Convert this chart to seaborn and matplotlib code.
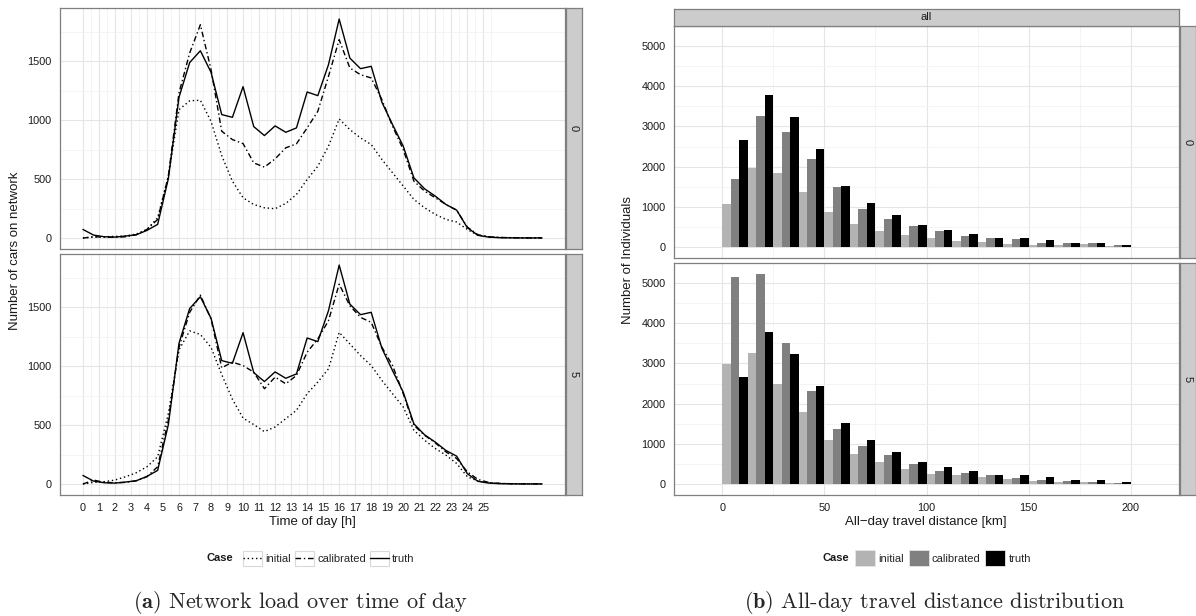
import numpy as np
import pandas as pd
import matplotlib
matplotlib.use('Agg')
import matplotlib.pyplot as plt
import seaborn as sns
from matplotlib.lines import Line2D
from matplotlib.patches import Patch, Rectangle
from matplotlib.legend_handler import HandlerLine2D
from matplotlib.ticker import MultipleLocator, FixedLocator

# --- DATA ---
cases = ['initial', 'calibrated', 'truth']

# network load, 40-minute time bins
hours = np.arange(44) * 40 / 60

load_truth = [73, 25, 11, 8, 17, 28, 65, 116, 503, 1195, 1490, 1590, 1407, 1048, 1025, 1285,
              946, 870, 952, 898, 935, 1240, 1209, 1472, 1859, 1528, 1438, 1458, 1153, 963,
              780, 511, 418, 356, 285, 237, 88, 23, 8, 3, 2, 1, 1, 1]
load_calib_0 = [0, 11, 8, 6, 11, 28, 73, 158, 525, 1232, 1571, 1811, 1430, 907, 836, 802,
                638, 602, 672, 766, 800, 935, 1076, 1373, 1684, 1444, 1387, 1359, 1175, 949,
                751, 483, 398, 342, 285, 237, 93, 28, 11, 5, 3, 2, 1, 1]
load_init_0 = [0, 8, 11, 14, 17, 34, 73, 172, 525, 1090, 1165, 1170, 990, 700, 483, 342,
               285, 257, 249, 294, 370, 497, 610, 780, 1011, 921, 850, 794, 667, 554,
               441, 328, 257, 201, 158, 136, 73, 23, 11, 5, 3, 2, 1, 1]
load_calib_5 = [0, 34, 14, 11, 14, 28, 62, 147, 541, 1162, 1458, 1604, 1401, 987, 1035, 1006,
                950, 809, 908, 851, 922, 1119, 1232, 1387, 1697, 1514, 1415, 1373, 1162, 1006,
                767, 499, 414, 350, 273, 217, 104, 39, 14, 6, 3, 2, 1, 1]
load_init_5 = [0, 14, 20, 34, 62, 96, 147, 231, 598, 1140, 1300, 1270, 1160, 930, 720, 560,
               505, 445, 485, 555, 626, 767, 866, 978, 1288, 1190, 1091, 1006, 880, 767,
               654, 457, 372, 302, 245, 175, 62, 25, 11, 5, 3, 2, 1, 1]

# travel distance histogram, 12.5 km bins
dist_edges = [-12.5 + 12.5 * k for k in range(19)]
dist_centers = [e + 6.25 for e in dist_edges[:-1]]
dist_truth = [3, 2669, 3785, 3240, 2446, 1529, 1107, 810, 562, 421, 339, 240, 223, 174, 116, 99, 66, 5]
dist_calib_0 = [8, 1702, 3264, 2868, 2198, 1504, 959, 711, 537, 397, 289, 240, 198, 116, 116, 99, 66, 17]
dist_init_0 = [5, 1083, 1983, 1835, 1380, 884, 587, 413, 314, 240, 165, 140, 91, 66, 66, 74, 41, 17]
dist_calib_5 = [8, 5140, 5231, 3501, 2315, 1376, 956, 733, 511, 346, 288, 239, 165, 115, 91, 66, 41, 12]
dist_init_5 = [5, 2998, 3254, 2488, 1796, 1104, 758, 560, 387, 264, 239, 189, 140, 91, 66, 66, 41, 12]

facets = ['0', '5']

load_rows = []
for f, ini, cal in [('0', load_init_0, load_calib_0), ('5', load_init_5, load_calib_5)]:
    for case, vals in zip(cases, [ini, cal, load_truth]):
        load_rows.append(pd.DataFrame({'hour': hours, 'cars': vals, 'case': case, 'facet': f}))
df_load = pd.concat(load_rows, ignore_index=True)

dist_rows = []
for f, ini, cal in [('0', dist_init_0, dist_calib_0), ('5', dist_init_5, dist_calib_5)]:
    for case, vals in zip(cases, [ini, cal, dist_truth]):
        dist_rows.append(pd.DataFrame({'dist': dist_centers, 'n': vals, 'case': case, 'facet': f}))
df_dist = pd.concat(dist_rows, ignore_index=True)

# --- STYLE ---
sns.set_style('white')
plt.rcParams['font.family'] = ['Liberation Sans', 'DejaVu Sans']
plt.rcParams['mathtext.fontset'] = 'cm'

W, H = 1196, 616
fig = plt.figure(figsize=(W / 100, H / 100), dpi=100)


def box(x0, y0, x1, y1):
    return [x0 / W, 1 - y1 / H, (x1 - x0) / W, (y1 - y0) / H]


border = '#7f7f7f'
strip_bg = '#cccccc'
txt = '#1a1a1a'


def style_ax(ax, xmaj, xmin, ymaj, ymin):
    ax.set_facecolor('white')
    ax.xaxis.set_major_locator(MultipleLocator(xmaj))
    ax.xaxis.set_minor_locator(MultipleLocator(xmin))
    ax.yaxis.set_major_locator(MultipleLocator(ymaj))
    ax.yaxis.set_minor_locator(MultipleLocator(ymin))
    ax.grid(which='major', color='#e5e5e5', linewidth=0.8)
    ax.grid(which='minor', color='#f3f3f3', linewidth=0.6)
    ax.set_axisbelow(True)
    for s in ax.spines.values():
        s.set_color(border)
        s.set_linewidth(0.9)
    ax.tick_params(which='major', length=4, width=0.8, color='#333333', labelsize=7.8,
                   labelcolor=txt, pad=2)
    ax.tick_params(which='minor', length=0)
    ax.set_xlabel('')
    ax.set_ylabel('')


def strip(rect, label, rotation):
    s = fig.add_axes(rect)
    s.set_facecolor(strip_bg)
    s.set_xticks([])
    s.set_yticks([])
    for sp in s.spines.values():
        sp.set_color(border)
        sp.set_linewidth(0.9)
    s.text(0.5, 0.5, label, rotation=rotation, ha='center', va='center',
           fontsize=8, color=txt, transform=s.transAxes)


dash_map = {'initial': (1, 2), 'calibrated': (4, 2, 1, 2), 'truth': ''}
greys = {'initial': '#b3b3b3', 'calibrated': '#808080', 'truth': '#000000'}

# --- (a) network load ---
left_rows = [(8, 249), (254, 495)]
for i, f in enumerate(facets):
    y0, y1 = left_rows[i]
    ax = fig.add_axes(box(60, y0, 565, y1))
    sns.lineplot(data=df_load[df_load.facet == f], x='hour', y='cars', style='case',
                 style_order=cases, dashes=dash_map, color='black', linewidth=1.0,
                 errorbar=None, legend=False, ax=ax)
    style_ax(ax, 1, 0.5, 500, 250)
    ax.set_xlim(-1.43, 30.1)
    ax.set_ylim(-93, 1953)
    ax.set_xticks(range(26))
    ax.xaxis.set_minor_locator(FixedLocator(np.arange(0.5, 25.6, 1)))
    if i == 0:
        ax.tick_params(axis='x', which='both', bottom=False, labelbottom=False)
    strip(box(566, y0, 582, y1), f, -90)

fig.text(15 / W, 1 - 251 / H, 'Number of cars on network', rotation=90, ha='center',
         va='center', fontsize=9.5, color=txt)
fig.text(312 / W, 1 - 522 / H, 'Time of day [h]', ha='center', va='center',
         fontsize=9.5, color=txt)

# --- (b) travel distance ---
right_rows = [(26, 258), (263, 495)]
for i, f in enumerate(facets):
    y0, y1 = right_rows[i]
    ax = fig.add_axes(box(674, y0, 1179, y1))
    sns.histplot(data=df_dist[df_dist.facet == f], x='dist', weights='n', hue='case',
                 hue_order=cases, palette=greys, bins=dist_edges, multiple='dodge',
                 shrink=1, alpha=1, linewidth=0, legend=False, ax=ax)
    style_ax(ax, 50, 25, 1000, 500)
    ax.set_xlim(-23.75, 223.75)
    ax.set_ylim(-261, 5492)
    if i == 0:
        ax.tick_params(axis='x', which='both', bottom=False, labelbottom=False)
    strip(box(1180, y0, 1196, y1), f, -90)
strip(box(674, 9, 1179, 26), 'all', 0)

fig.text(628 / W, 1 - 260 / H, 'Number of Individuals', rotation=90, ha='center',
         va='center', fontsize=9.5, color=txt)
fig.text(926 / W, 1 - 522 / H, 'All\u2212day travel distance [km]', ha='center',
         va='center', fontsize=9.5, color=txt)


# --- legends ---
class BoxedLine(HandlerLine2D):
    # ggplot-style legend key: line inside a light bordered box
    def create_artists(self, legend, orig_handle, xdescent, ydescent, width, height,
                       fontsize, trans):
        arts = super().create_artists(legend, orig_handle, xdescent, ydescent, width,
                                      height, fontsize, trans)
        rect = Rectangle((-xdescent, -ydescent), width, height, facecolor='white',
                         edgecolor='#d9d9d9', linewidth=0.8, transform=trans)
        for a in arts:
            a.set_ydata([height / 2 - ydescent] * len(a.get_xdata()))
        return [rect] + list(arts)


line_handles = [Line2D([], [], color='black', linewidth=1.0, dashes=(1, 2)),
                Line2D([], [], color='black', linewidth=1.0, dashes=(4, 2, 1, 2)),
                Line2D([], [], color='black', linewidth=1.0)]
fig.text(220 / W, 1 - 558 / H, 'Case', fontsize=8, weight='bold', ha='center',
         va='center', color=txt)
fig.legend(line_handles, cases, loc='center', bbox_to_anchor=(329 / W, 1 - 558 / H),
           ncol=3, frameon=False, fontsize=8, handlelength=1.7, handleheight=1.7,
           handletextpad=0.3, columnspacing=0.35, borderpad=0,
           handler_map={Line2D: BoxedLine()})

bar_handles = [Patch(facecolor=greys[c], edgecolor='#e6e6e6', linewidth=0.6) for c in cases]
fig.text(836 / W, 1 - 558 / H, 'Case', fontsize=8, weight='bold', ha='center',
         va='center', color=txt)
fig.legend(bar_handles, cases, loc='center', bbox_to_anchor=(943 / W, 1 - 558 / H),
           ncol=3, frameon=False, fontsize=8, handlelength=1.8, handleheight=1.8,
           handletextpad=0.3, columnspacing=0.4, borderpad=0)

# --- captions ---
cap_y = 1 - 602 / H
fig.text(300 / W, cap_y, r'$\mathbf{(a)}$ Network load over time of day', family='cmr10',
         fontsize=16, ha='center', va='center')
fig.text(935 / W, cap_y, r'$\mathbf{(b)}$ All-day travel distance distribution',
         family='cmr10', fontsize=16, ha='center', va='center')

fig.savefig('out.png', dpi=100, facecolor='white')
